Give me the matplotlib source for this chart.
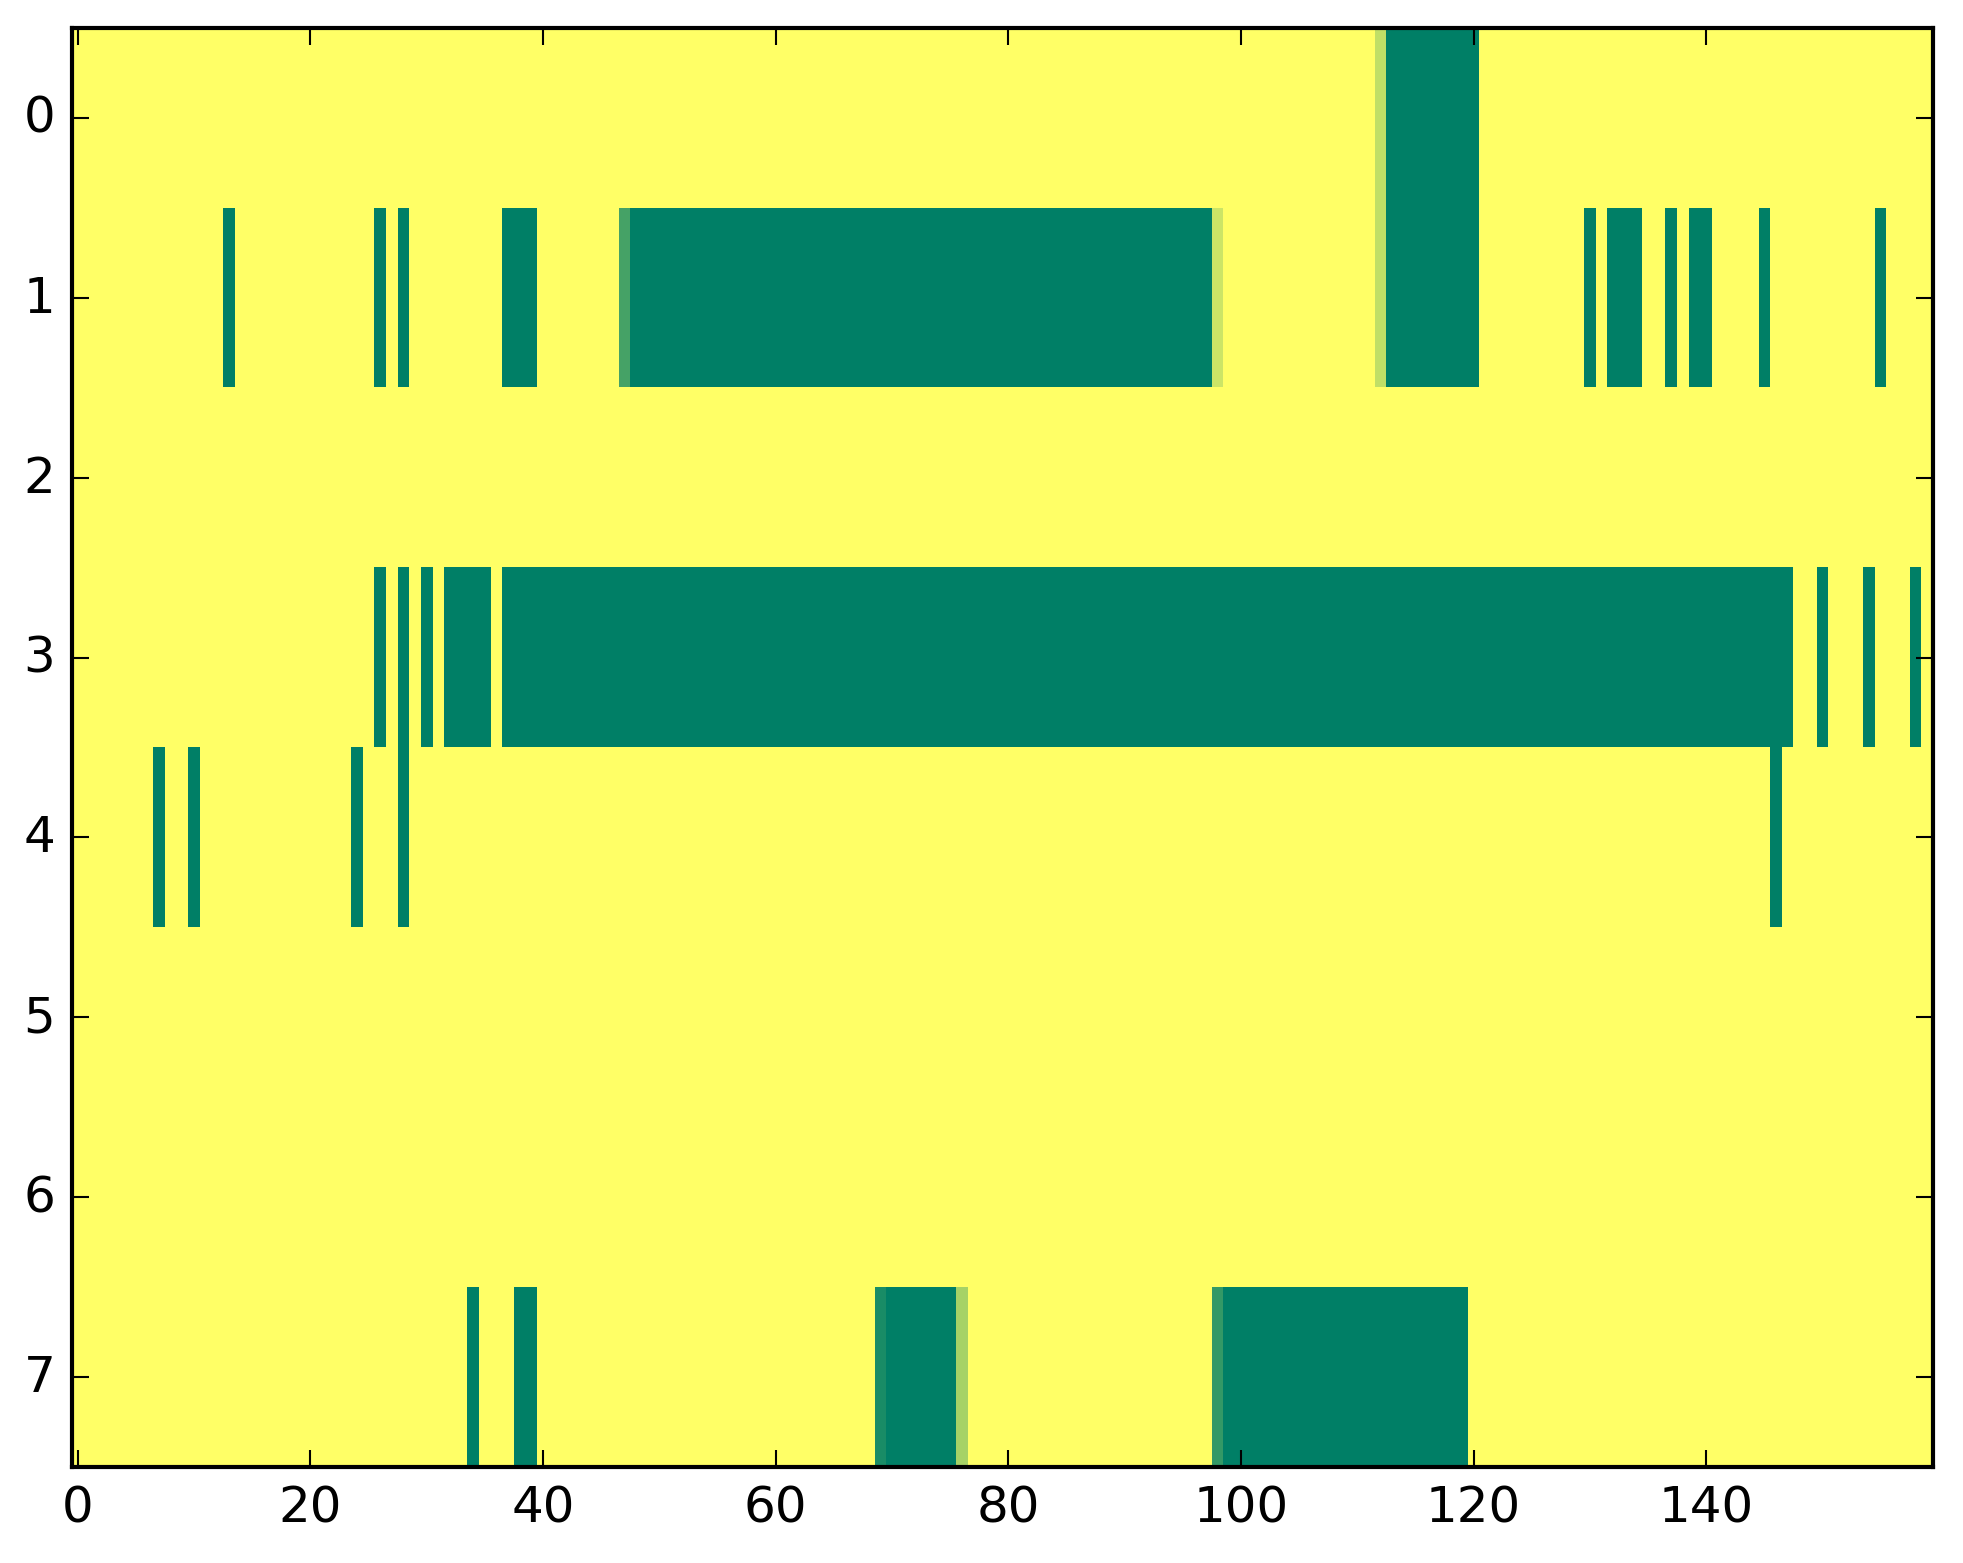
import numpy as np
import matplotlib
matplotlib.use("Agg")
import matplotlib.pyplot as plt

n_rows = 8
n_cols = 160

# runs of non-background cells per row: (first_col, last_col, value)
row0 = [(112, 112, 0.75), (113, 120, 0.0)]
row1 = [(13, 13, 0.0), (26, 26, 0.0), (28, 28, 0.0), (37, 39, 0.0),
        (47, 47, 0.27), (48, 97, 0.0), (98, 98, 0.8),
        (112, 112, 0.75), (113, 120, 0.0),
        (130, 130, 0.0), (132, 134, 0.0), (137, 137, 0.0), (139, 140, 0.0),
        (145, 145, 0.0), (155, 155, 0.0)]
row2 = []
row3 = [(26, 26, 0.0), (28, 28, 0.0), (30, 30, 0.0), (32, 35, 0.0),
        (37, 147, 0.0), (150, 150, 0.0), (154, 154, 0.0), (158, 158, 0.0)]
row4 = [(7, 7, 0.0), (10, 10, 0.0), (24, 24, 0.0), (28, 28, 0.0), (146, 146, 0.0)]
row5 = []
row6 = []
row7 = [(34, 34, 0.0), (38, 39, 0.0), (69, 69, 0.1), (70, 75, 0.0),
        (76, 76, 0.65), (98, 98, 0.2), (99, 119, 0.0)]

rows = [row0, row1, row2, row3, row4, row5, row6, row7]

grid = np.ones((n_rows, n_cols))
for r, runs in enumerate(rows):
    for a, b, v in runs:
        grid[r, a:b + 1] = v

plt.style.use("classic")
W, H = 1963, 1564
fig = plt.figure(figsize=(W / 300, H / 300), dpi=300)
ax = fig.add_axes([72 / W, (H - 1468) / H, (1933 - 72) / W, (1468 - 29) / H])
ax.imshow(grid, cmap="summer", vmin=0, vmax=1, aspect="auto", interpolation="nearest")
ax.set_xticks(np.arange(0, 141, 20))
ax.set_yticks(np.arange(0, 8))
ax.set_xlim(-0.5, n_cols - 0.5)
ax.set_ylim(n_rows - 0.5, -0.5)

fig.savefig("out.png", dpi=300)
